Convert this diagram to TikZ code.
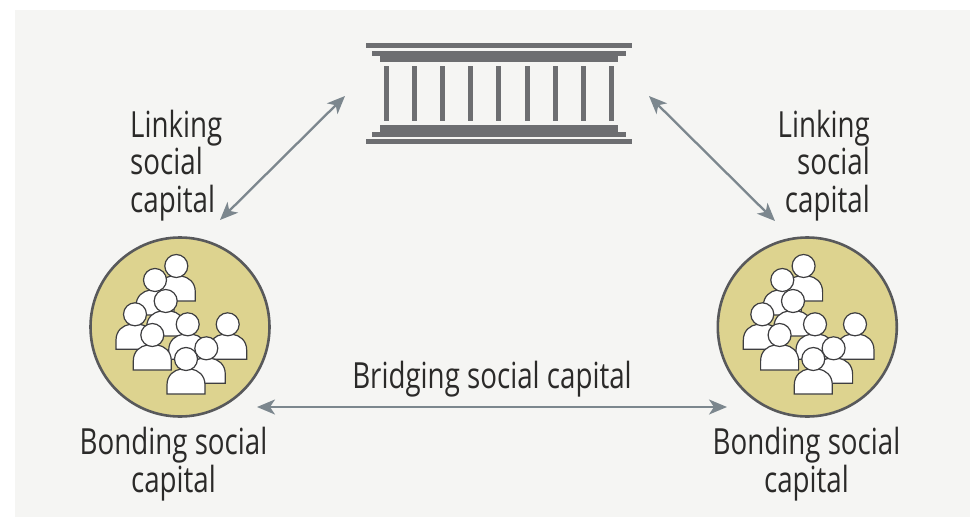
\documentclass[tikz,border=0pt]{standalone}
\usepackage{fontspec}
\setmainfont[FakeStretch=0.77]{Open Sans}
\usepackage{xcolor}
\usetikzlibrary{arrows.meta}
\definecolor{panel}{HTML}{F5F5F3}
\definecolor{temple}{HTML}{6D6E71}
\definecolor{sand}{HTML}{DDD38F}
\definecolor{ring}{HTML}{58595B}
\definecolor{link}{HTML}{7C878E}
\definecolor{ink}{HTML}{2B2A29}
\tikzset{x=1pt, y=-1pt,
 label/.style={text=ink, font=\fontsize{36}{37.5}\selectfont, inner sep=0pt},
 group/.style={circle, draw=ring, fill=sand, line width=2.6pt, minimum size=179pt, inner sep=0pt},
 tie/.style={draw=link, line width=2.3pt, {Stealth[length=18pt,width=15pt,inset=5pt]}-{Stealth[length=18pt,width=15pt,inset=5pt]}},
 person/.pic={
  \draw[fill=white, draw=ring!70!black, line width=1.2pt] (-19,35) -- (-19,26) .. controls (-19,16) and (-12,11) .. (-5,10) -- (5,10) .. controls (12,11) and (19,16) .. (19,26) -- (19,35) -- cycle;
  \draw[fill=white, draw=ring!70!black, line width=1.2pt] (0,0) circle (11.5);
 },
}
\begin{document}
\begin{tikzpicture}
    \useasboundingbox (0,0) rectangle (970,517);
    \fill[panel] (15,10) rectangle (970,517);

    % temple
    \fill[temple] (366,43) rectangle (632,48);
    \fill[temple] (372,50.7) rectangle (625.7,55.7);
    \fill[temple] (380,55.7) rectangle (618,61.7);
    \foreach \x in {386.3, 414.3, 442.3, 470.3, 498.3, 527.3, 555.3, 583.3, 611.3} {
        \fill[temple] (\x-2.5,66) rectangle (\x+2.5,121);
    }
    \fill[temple] (380,125.3) rectangle (618,131.7);
    \fill[temple] (372,131.7) rectangle (625.7,136.7);
    \fill[temple] (366,139) rectangle (632,144);

    % the two groups
    \node[group] (groupL) at (180,327) {};
    \node[group] (groupR) at (807.3,327) {};
    \foreach \g in {0, 627.3} {
        \foreach \x/\y in {176.3/266, 155/280, 165.7/301, 135/314.3, 227.7/324.3, 187.7/324.3, 152.3/335, 206.3/348.3, 186/359} {
            \pic at (\x+\g,\y) {person};
        }
    }

    % free ends of the connectors
    \coordinate (linkLa) at (345,96);
    \coordinate (linkLb) at (220,220);
    \coordinate (linkRa) at (649,96);
    \coordinate (linkRb) at (775,221);
    \coordinate (bridgeL) at (257,407);
    \coordinate (bridgeR) at (727,407);
    \draw[tie] (linkLa) -- (linkLb);
    \draw[tie] (linkRa) -- (linkRb);
    \draw[tie] (bridgeL) -- (bridgeR);

    \node[label, anchor=base west, align=left] (linkingL) at (130,212) {Linking\\social\\capital};
    \node[label, anchor=base east, align=right] (linkingR) at (870,212) {Linking\\social\\capital};
    \node[label, anchor=base] (bridging) at (492,388) {Bridging social capital};
    \node[label, anchor=base, align=center] (bondingL) at (173.5,492) {Bonding social\\capital};
    \node[label, anchor=base, align=center] (bondingR) at (806.5,492) {Bonding social\\capital};
\end{tikzpicture}
\end{document}
